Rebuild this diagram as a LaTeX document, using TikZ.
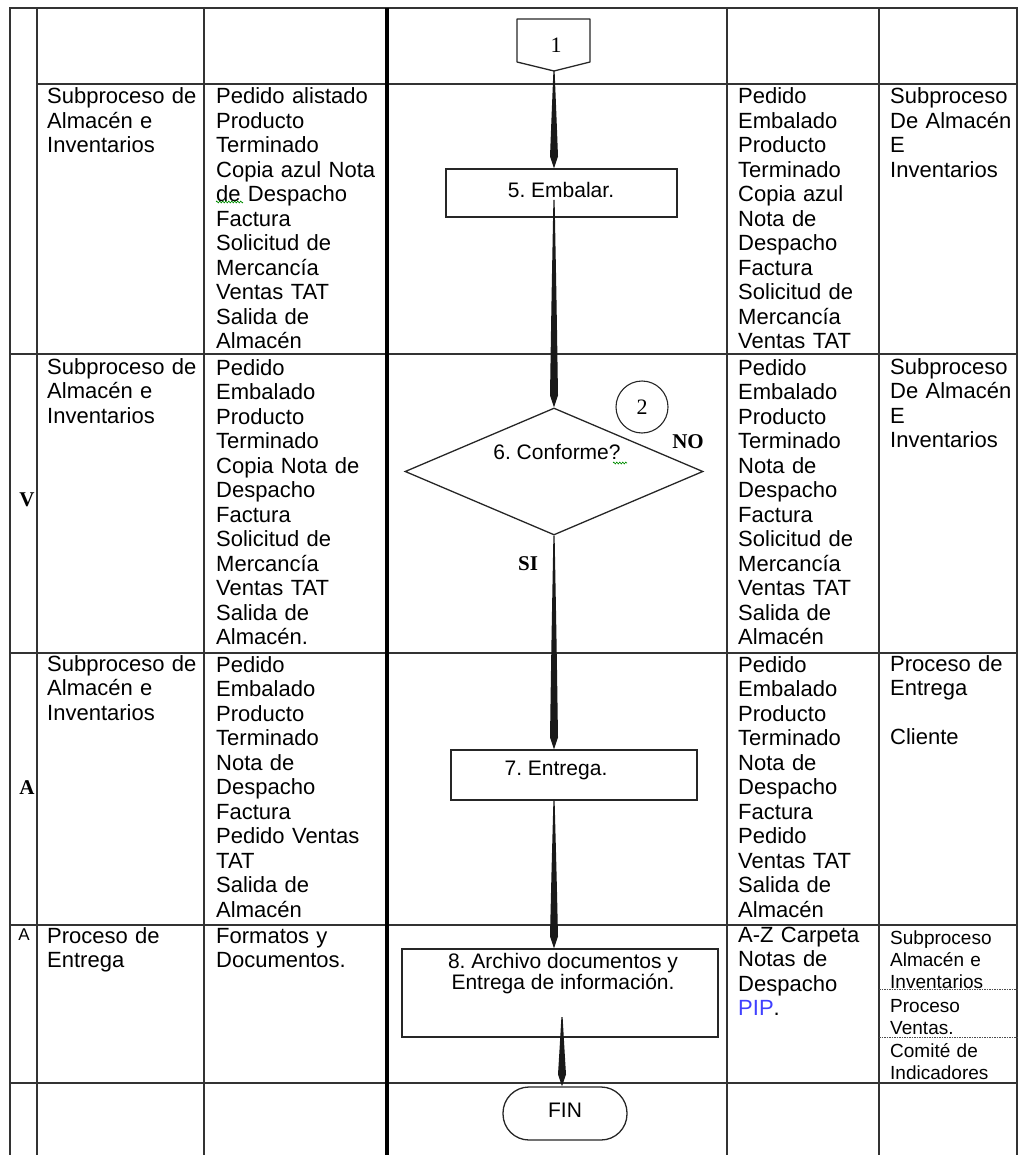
\documentclass[tikz,border=0pt]{standalone}
\usepackage{fontspec}
\setmainfont{Liberation Sans}
\newfontfamily\romana{Liberation Serif}
\usetikzlibrary{calc,shapes.geometric,decorations.pathmorphing}

\newcommand{\celda}{\fontsize{22}{24.5}\selectfont}
\newcommand{\celdita}{\fontsize{19}{22}\selectfont}
\newcommand{\caja}{\fontsize{21}{21}\selectfont}

% Flecha afilada de #1 a #2
\newcommand{\flecha}[2]{%
  \fill[black!90] ($(#1)+(-0.6,0)$) .. controls ($(#1)!0.5!(#2)+(-2.6,0)$) .. ($(#2)+(-4,-12)$)
    -- (#2) -- ($(#2)+(4,-12)$) .. controls ($(#1)!0.5!(#2)+(2.6,0)$) .. ($(#1)+(0.6,0)$) -- cycle;}

\tikzset{
  linea/.style={line width=1.8pt, black!80, line cap=rect},
  punteada/.style={line width=0.9pt, black!70, dash pattern=on 1.5pt off 1pt},
  celda/.style={anchor=base west, inner sep=0pt, text width=175pt, align=left, font=\celda},
  celdita/.style={anchor=base west, inner sep=0pt, text width=130pt, align=left, font=\celdita},
  proceso/.style={draw=black!85, line width=1.3pt, rectangle, inner sep=0pt},
  decision/.style={draw=black!85, line width=1.3pt, diamond, inner sep=0pt},
  letra/.style={font=\romana\bfseries\fontsize{21}{21}\selectfont, inner sep=0pt},
  ondita/.style={green!55!black, line width=0.6pt, decorate, decoration={zigzag, segment length=3pt, amplitude=1pt}}
}

\begin{document}
\frenchspacing
\begin{tikzpicture}[x=1pt, y=-1pt]
    \useasboundingbox (0,0) rectangle (1019,1155);

    % Tabla
    \draw[linea] (10,8) -- (1017,8);
    \draw[linea] (37,84) -- (1017,84);
    \foreach \y in {354,653,925,1083}
        \draw[linea] (10,\y) -- (1017,\y);
    \foreach \x in {10,37,204,727,879,1017}
        \draw[linea] (\x,8) -- (\x,1155);
    \draw[line width=3.5pt, black] (387,8) -- (387,1155);
    \draw[punteada] (879,989) -- (1017,989);
    \draw[punteada] (879,1037) -- (1017,1037);

    % Primera columna
    \node[letra] (v) at (27,500) {V};
    \node[letra] (a1) at (27,788) {A};
    \node[inner sep=0pt, font=\fontsize{17}{17}\selectfont] (a2) at (24,935) {A};

    % Fila 5. Embalar
    \node[celda] (f1c2) at (47,104) {Subproceso de\\Almacén e\\Inventarios};
    \node[celda] (f1c3) at (216,104) {Pedido alistado\\Producto\\Terminado\\Copia azul Nota\\de Despacho\\Factura\\Solicitud de\\Mercancía\\Ventas TAT\\Salida de\\Almacén};
    \node[celda] (f1c5) at (738,104) {Pedido\\Embalado\\Producto\\Terminado\\Copia azul\\Nota de\\Despacho\\Factura\\Solicitud de\\Mercancía\\Ventas TAT};
    \node[celda] (f1c6) at (890,104) {Subproceso\\De Almacén\\E\\Inventarios};
    \draw[ondita] (216,202) -- (243,202);

    % Fila 6. Conforme
    \node[celda] (f2c2) at (47,374) {Subproceso de\\Almacén e\\Inventarios};
    \node[celda] (f2c3) at (216,375) {Pedido\\Embalado\\Producto\\Terminado\\Copia Nota de\\Despacho\\Factura\\Solicitud de\\Mercancía\\Ventas TAT\\Salida de\\Almacén.};
    \node[celda] (f2c5) at (738,375) {Pedido\\Embalado\\Producto\\Terminado\\Nota de\\Despacho\\Factura\\Solicitud de\\Mercancía\\Ventas TAT\\Salida de\\Almacén};
    \node[celda] (f2c6) at (890,374) {Subproceso\\De Almacén\\E\\Inventarios};

    % Fila 7. Entrega
    \node[celda] (f3c2) at (47,671) {Subproceso de\\Almacén e\\Inventarios};
    \node[celda] (f3c3) at (216,672) {Pedido\\Embalado\\Producto\\Terminado\\Nota de\\Despacho\\Factura\\Pedido Ventas\\TAT\\Salida de\\Almacén};
    \node[celda] (f3c5) at (738,672) {Pedido\\Embalado\\Producto\\Terminado\\Nota de\\Despacho\\Factura\\Pedido\\Ventas TAT\\Salida de\\Almacén};
    \node[celda] (f3c6) at (890,671) {Proceso de\\Entrega\\\mbox{}\\Cliente};

    % Fila 8. Archivo
    \node[celda] (f4c2) at (47,943) {Proceso de\\Entrega};
    \node[celda] (f4c3) at (216,943) {Formatos y\\Documentos.};
    \node[celda] (f4c5) at (738,942) {A-Z Carpeta\\Notas de\\Despacho\\\textcolor{blue!75}{PIP}.};
    \node[celdita] (f4c6a) at (890,944) {Subproceso\\Almacén e\\Inventarios};
    \node[celdita] (f4c6b) at (890,1012) {Proceso\\Ventas.};
    \node[celdita] (f4c6c) at (890,1057) {Comité de\\Indicadores};

    % Diagrama
    \coordinate (c1) at (554,71);
    \draw[draw=black!85, line width=1.3pt, line join=round] (517,19) -- (590,19) -- (590,62) -- (c1) -- (517,62) -- cycle;
    \node[font=\romana\fontsize{22}{22}\selectfont, inner sep=0pt] (uno) at (556,45) {1};

    \node[proceso, minimum width=231, minimum height=48] (embalar) at (561.5,193) {};
    \node[font=\caja, inner sep=0pt] (embalartxt) at (561,190) {5. Embalar.};

    \node[decision, minimum width=298, minimum height=127] (conforme) at (554,471.5) {};
    \node[font=\caja, inner sep=0pt] (conformetxt) at (557,452) {6. Conforme?};
    \draw[ondita] (613,463) -- (627,463);
    \node[draw=black!85, line width=1.1pt, circle, minimum size=52, inner sep=0pt, font=\romana\fontsize{22}{22}\selectfont] (dos) at (642,407) {2};
    \node[letra] (no) at (688,442) {NO};
    \node[letra] (si) at (528,564) {SI};

    \node[proceso, minimum width=246, minimum height=50] (entrega) at (574,775) {};
    \node[font=\caja, inner sep=0pt] (entregatxt) at (556,770) {7. Entrega.};

    \node[proceso, minimum width=316, minimum height=88] (archivo) at (560,993) {};
    \node[font=\caja, inner sep=0pt, align=center] (archivotxt) at (563,974) {8. Archivo documentos y\\Entrega de información.};

    \node[draw=black!85, line width=1.3pt, rounded corners=26, minimum width=124, minimum height=53, inner sep=0pt] (fin) at (565,1113.5) {};
    \node[font=\caja, inner sep=0pt] (fintxt) at (565,1110) {FIN};

    % Conectores
    \coordinate (s5) at (554,200);
    \coordinate (s8) at (562,1017);
    \flecha{c1}{embalar.north -| c1}
    \flecha{s5}{conforme.north}
    \flecha{conforme.south}{entrega.north -| c1}
    \flecha{entrega.south -| c1}{archivo.north -| c1}
    \flecha{s8}{fin.north -| s8}
\end{tikzpicture}
\end{document}
